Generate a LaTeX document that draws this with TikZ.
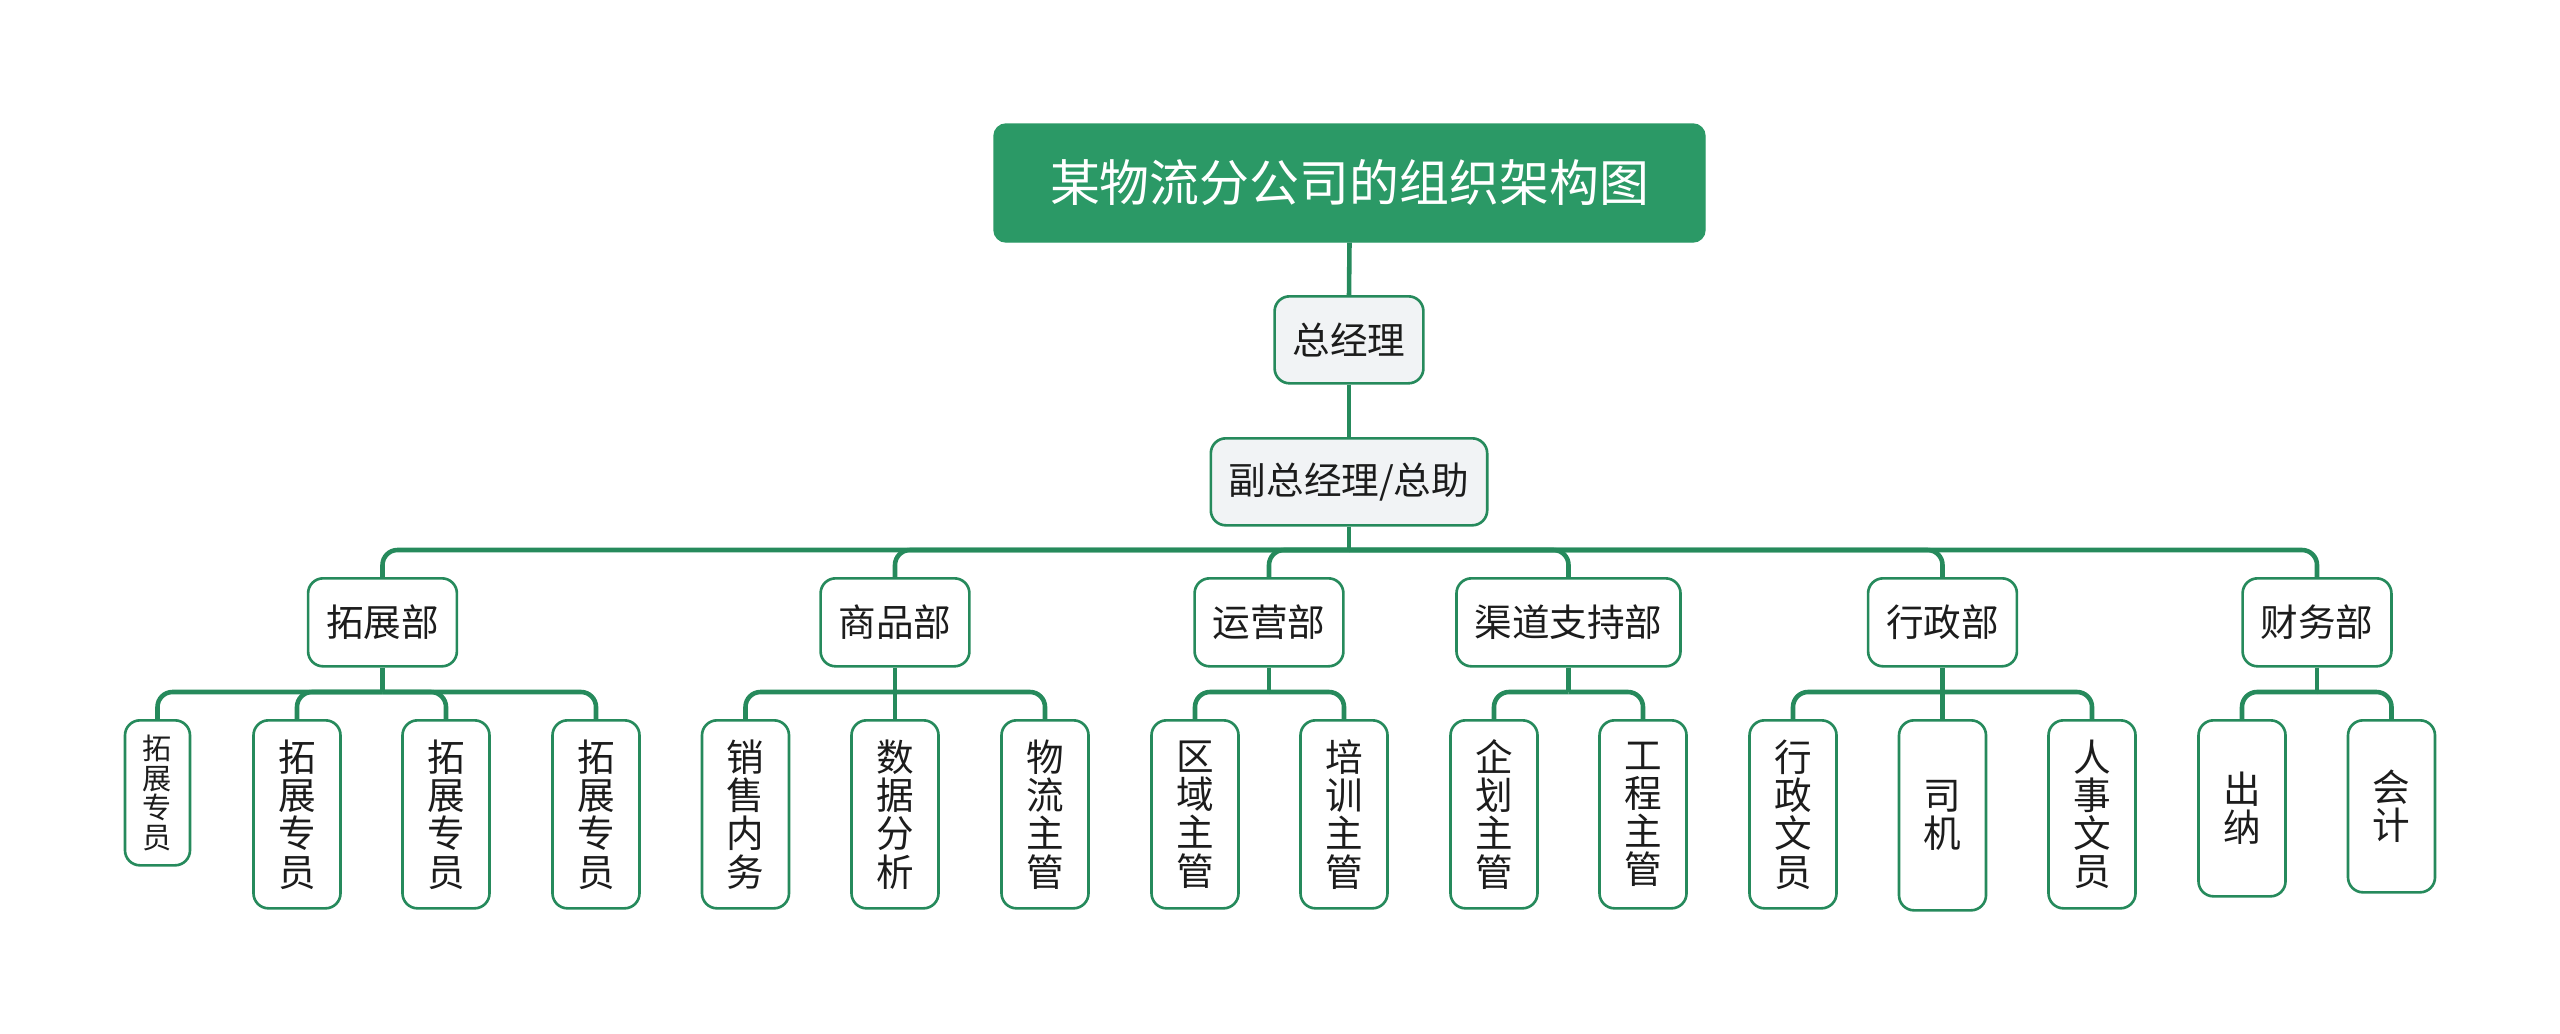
\documentclass[tikz,border=0pt]{standalone}
\usepackage{fontspec}
\setmainfont{Noto Sans CJK SC}
\definecolor{mapgreen}{RGB}{43,153,102}
\definecolor{linegreen}{RGB}{38,138,92}
\definecolor{boxgray}{RGB}{241,243,245}
\definecolor{inkgray}{RGB}{28,28,28}

\begin{document}
\begin{tikzpicture}[
  box/.style={draw=linegreen, line width=0.75pt, rounded corners=0.15cm, inner xsep=0.18cm, inner ysep=0pt,
    text=inkgray, font=\fontsize{10.7}{10.9}\selectfont, align=center},
  topbox/.style={box, fill=boxgray, minimum height=0.87cm, anchor=north},
  deptbox/.style={box, fill=white, minimum height=0.88cm, anchor=north},
  leafbox/.style={box, fill=white, inner xsep=0pt, minimum width=0.87cm, minimum height=1.88cm, anchor=north},
  link/.style={draw=linegreen, line width=1.3pt},
  elbow/.style={link, rounded corners=0.15cm}
]
  \useasboundingbox (0,0) rectangle (25.6,-10.33);

  % Title block
  \node[fill=mapgreen, draw=mapgreen, rounded corners=0.12cm, minimum width=7.11cm, minimum height=1.18cm,
    text=white, font=\fontsize{14.2}{17}\selectfont] (title) at (13.495,-1.83) {某物流分公司的组织架构图};

  % Management chain
  \node[topbox] (gm) at (13.49,-2.95) {总经理};
  \node[topbox] (vgm) at (13.49,-4.37) {副总经理/总助};

  % Departments (top edge at y = -5.77)
  \node[deptbox] (d1) at (3.825,-5.77) {拓展部};
  \node[deptbox] (d2) at (8.95,-5.77) {商品部};
  \node[deptbox] (d3) at (12.69,-5.77) {运营部};
  \node[deptbox] (d4) at (15.685,-5.77) {渠道支持部};
  \node[deptbox] (d5) at (19.425,-5.77) {行政部};
  \node[deptbox] (d6) at (23.17,-5.77) {财务部};

  % Staff (top edge at y = -7.19)
  \node[leafbox, minimum width=0.65cm, minimum height=1.45cm, font=\fontsize{8.3}{8.4}\selectfont]
    (l1) at (1.575,-7.19) {拓\\展\\专\\员};
  \node[leafbox] (l2) at (2.97,-7.19) {拓\\展\\专\\员};
  \node[leafbox] (l3) at (4.46,-7.19) {拓\\展\\专\\员};
  \node[leafbox] (l4) at (5.96,-7.19) {拓\\展\\专\\员};
  \node[leafbox] (l5) at (7.455,-7.19) {销\\售\\内\\务};
  \node[leafbox] (l6) at (8.95,-7.19) {数\\据\\分\\析};
  \node[leafbox] (l7) at (10.45,-7.19) {物\\流\\主\\管};
  \node[leafbox] (l8) at (11.95,-7.19) {区\\域\\主\\管};
  \node[leafbox] (l9) at (13.44,-7.19) {培\\训\\主\\管};
  \node[leafbox] (l10) at (14.94,-7.19) {企\\划\\主\\管};
  \node[leafbox] (l11) at (16.43,-7.19) {工\\程\\主\\管};
  \node[leafbox] (l12) at (17.93,-7.19) {行\\政\\文\\员};
  \node[leafbox, minimum height=1.90cm] (l13) at (19.425,-7.19) {司\\机};
  \node[leafbox] (l14) at (20.92,-7.19) {人\\事\\文\\员};
  \node[leafbox, minimum height=1.76cm] (l15) at (22.42,-7.19) {出\\纳};
  \node[leafbox, minimum height=1.72cm] (l16) at (23.915,-7.19) {会\\计};

  % Stems down the management chain
  \draw[link] (title.south) -- (gm.north);
  \draw[link] (gm.south) -- (vgm.north);

  % Bus to departments
  \coordinate (vgm-j) at (vgm.south |- 0,-5.50);
  \draw[link] (vgm.south) -- (vgm-j);
  \foreach \d in {d1,d2,d3,d4,d5,d6}
    \draw[elbow] (vgm-j) -| (\d.north);

  % Bus from each department to its staff
  \foreach \d in {d1,d2,d3,d4,d5,d6} {
    \coordinate (\d-j) at (\d.south |- 0,-6.92);
    \draw[link] (\d.south) -- (\d-j);
  }
  \foreach \d/\s in {d1/l1,d1/l2,d1/l3,d1/l4,d2/l5,d2/l6,d2/l7,d3/l8,d3/l9,
                     d4/l10,d4/l11,d5/l12,d5/l13,d5/l14,d6/l15,d6/l16}
    \draw[elbow] (\d-j) -| (\s.north);

\end{tikzpicture}
\end{document}
